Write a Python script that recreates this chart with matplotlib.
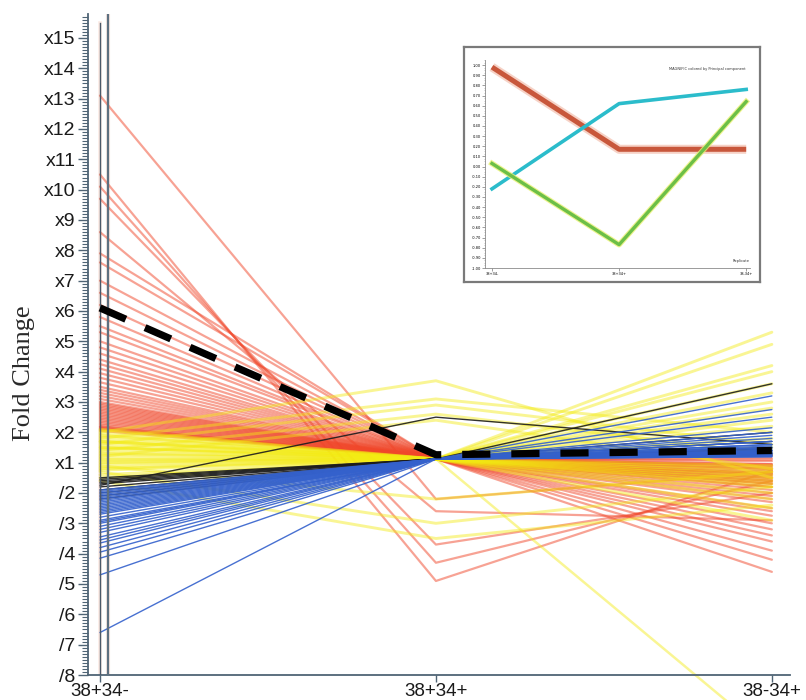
import matplotlib
matplotlib.use("Agg")
import matplotlib.pyplot as plt
import matplotlib.transforms as mtransforms
from matplotlib.ticker import FixedLocator, MultipleLocator

# ---------------- data (signed fold change: 3.0 = x3, -3.0 = /3) ----------------
conditions = ["38+34-", "38+34+", "38-34+"]

red_start = [13.1, 10.5, 10.1, 9.7, 8.6, 7.9, 7.6, 7.0, 6.6, 6.2, 5.8, 5.5, 5.3, 5.0,
             4.8, 4.6, 4.4, 4.25, 4.1, 3.95, 3.8, 3.65, 3.5, 3.4, 3.3, 3.2, 3.1, 3.0,
             2.95, 2.9, 2.85, 2.8, 2.75, 2.7, 2.65, 2.6, 2.55, 2.5, 2.45, 2.4, 2.35,
             2.3, 2.25, 2.2, 2.18, 2.15, 2.12, 2.1, 2.05]
red_mid = [-2.2, -4.9, -4.3, -3.7, -2.6, 1.12, 1.12, 1.12, 1.12, 1.12, 1.12, 1.12, 1.12, 1.12,
           1.12, 1.12, 1.12, 1.12, 1.12, 1.12, 1.12, 1.12, 1.12, 1.12, 1.12, 1.12, 1.12, 1.12,
           1.12, 1.12, 1.12, 1.12, 1.12, 1.12, 1.12, 1.12, 1.12, 1.12, 1.12, 1.12, 1.12,
           1.12, 1.12, 1.12, 1.12, 1.12, 1.12, 1.12, 1.12]
red_end = [-1.3, -1.25, -1.6, -2.0, -2.9, 1.3, -1.05, -1.5, 1.25, -1.1, -2.2, 1.15,
           -1.15, -1.7, -3.4, 1.1, -1.2, -1.35, -2.5, 1.05, -1.25, -1.45, -3.9, -1.3,
           -1.6, -2.1, -1.4, -1.8, -4.6, -1.55, -1.65, -2.3, -1.9, -2.6, -1.05, -3.0,
           -1.2, -1.4, -2.75, -1.5, -3.2, -1.7, -2.0, -1.1, -3.6, -1.35, -4.2, -1.6, -1.8]

yellow_start = [2.1, 2.05, 2.0, 1.95, 1.9, 1.85, 1.8, 1.75, 1.7, 1.65, 1.6, 1.55, 1.5,
                1.45, 1.4, 1.35, 1.3, 1.25, 1.2, 1.15, 1.1, 1.05, 1.0, -1.05, -1.1,
                -1.15, -1.2, -1.25, -1.3, -1.4, -1.5, -1.6, 1.7, 1.5]
yellow_mid = [1.12, 1.12, 3.7, 1.12, 1.12, 1.12, 3.1, 1.12, 1.12, 1.12, 2.9, 1.12, 1.12,
              1.12, 2.6, 1.12, 1.12, 1.12, 2.4, 1.12, 1.12, 1.12, 1.12, 1.12, -2.2,
              1.12, 1.12, 1.12, -3.0, 1.12, 1.12, -3.5, 1.12, 1.12]
yellow_end = [5.3, -1.1, -1.5, 4.9, -1.2, 4.2, 2.0, -1.3, 4.0, -1.4, 1.6, 3.6, -1.5,
              3.3, 1.3, -1.6, 3.0, -1.7, -1.2, 2.8, -1.8, 2.6, -2.0, 2.4, -1.3,
              -2.2, 2.2, -2.5, -1.8, 1.8, -2.9, -2.4, 1.5, -10.1]

black_start = [-1.75, -1.5, -1.55, -1.6, -1.65, -1.7, -1.8, -1.9, -2.0, -2.1, -2.2]
black_mid = [2.5, 1.12, 1.12, 1.12, 1.12, 1.12, 1.12, 1.12, 1.12, 1.12, 1.12]
black_end = [1.6, 3.6, 2.0, 1.7, 1.5, 1.4, 1.3, 1.35, 1.25, 1.45, 1.3]

blue_start = [-1.9, -1.95, -2.0, -2.05, -2.1, -2.15, -2.2, -2.25, -2.3, -2.35, -2.4,
              -2.45, -2.5, -2.55, -2.6, -2.65, -2.7, -2.8, -2.9, -2.95, -3.0, -3.1,
              -3.2, -3.3, -3.45, -3.55, -3.65, -3.8, -3.95, -4.15, -4.7, -6.6]
blue_mid = [1.12, 1.12, 1.12, 1.12, 1.12, 1.12, 1.12, 1.12, 1.12, 1.12, 1.12,
            1.12, 1.12, 1.12, 1.12, 1.12, 1.12, 1.12, 1.12, 1.12, 1.12, 1.12,
            1.12, 1.12, 1.12, 1.12, 1.12, 1.12, 1.12, 1.12, 1.12, 1.12]
blue_end = [3.2, 2.75, 2.5, 2.15, 1.9, 1.8, 1.7, 1.6, 1.55, 1.5, 1.45,
            1.4, 1.4, 1.35, 1.35, 1.3, 1.3, 1.3, 1.25, 1.25, 1.25, 1.25,
            1.2, 1.2, 1.2, 1.3, 1.35, 1.4, 1.5, 1.6, 1.7, 2.0]

mean_profile = [6.1, 1.26, 1.4]

# inset: principal component profiles
pc_values = {
    "PC1": [0.98, 0.17, 0.17],
    "PC2": [-0.22, 0.62, 0.76],
    "PC3": [0.03, -0.77, 0.64],
}

y_tick_labels = ["/8", "/7", "/6", "/5", "/4", "/3", "/2", "x1", "x2", "x3", "x4",
                 "x5", "x6", "x7", "x8", "x9", "x10", "x11", "x12", "x13", "x14", "x15"]


def to_axis(f):
    """signed fold change -> linear axis position (x1 = 0, xN = N-1, /N = -(N-1))"""
    return f - 1 if f > 0 else f + 1


xs = list(range(len(conditions)))

# ---------------- figure ----------------
W, H = 806, 700
fig = plt.figure(figsize=(W / 100, H / 100), dpi=100)
ax = fig.add_axes([88 / W, 25 / H, 702 / W, 661 / H])
ax.set_xlim(-0.0357, 2.054)
ax.set_ylim(-7, 14.79)

spine_col = "#4f6475"
for s in ["top", "right"]:
    ax.spines[s].set_visible(False)
for s in ["left", "bottom"]:
    ax.spines[s].set_color(spine_col)
    ax.spines[s].set_linewidth(1.3)

# vertical guide lines at the first condition
xaxis_tr = ax.get_xaxis_transform()
offset = mtransforms.ScaledTranslation(8 / 100, 0, fig.dpi_scale_trans)
ax.plot([0, 0], [0, 652 / 661], transform=xaxis_tr, color="#f6c4b2", lw=2.6, alpha=0.35, zorder=0.5)
ax.plot([0, 0], [0, 652 / 661], transform=xaxis_tr, color="#4a5868", lw=1.0, zorder=6)
ax.plot([0, 0], [0, 1], transform=xaxis_tr + offset, color="#f6c4b2", lw=3.0, alpha=0.35, zorder=0.5)
ax.plot([0, 0], [0, 1], transform=xaxis_tr + offset, color="#5d7080", lw=1.6, zorder=6)


def draw_group(starts, mids, ends, color, lw, alpha, z, **kw):
    for a, b, c in zip(starts, mids, ends):
        ax.plot(xs, [to_axis(a), to_axis(b), to_axis(c)], color=color, lw=lw,
                alpha=alpha, zorder=z, solid_capstyle="round", **kw)


draw_group(red_start, red_mid, red_end, "#f0472a", 1.6, 0.5, 1)
draw_group(yellow_start[:-1], yellow_mid[:-1], yellow_end[:-1], "#f3eb12", 2.1, 0.45, 2)
draw_group(yellow_start[-1:], yellow_mid[-1:], yellow_end[-1:], "#f3eb12", 1.8, 0.45, 2,
           clip_on=False)
draw_group(black_start, black_mid, black_end, "#1c1c1c", 1.0, 0.9, 3)
draw_group(blue_start, blue_mid, blue_end, "#3461cc", 1.0, 0.9, 3)

ax.plot(xs, [to_axis(v) for v in mean_profile], color="black", lw=5.2,
        dashes=(3.9, 2.9), solid_capstyle="butt", dash_capstyle="butt", zorder=7)

# y axis ticks
ax.yaxis.set_major_locator(FixedLocator(range(-7, 15)))
ax.set_yticklabels(y_tick_labels)
ax.yaxis.set_minor_locator(MultipleLocator(0.1))
ax.tick_params(axis="y", which="major", length=7, width=1.0, color=spine_col,
               labelsize=14, pad=2, labelcolor="#1a1a1a")
ax.tick_params(axis="y", which="minor", length=4, width=0.8, color=spine_col)
ax.set_xticks(xs)
ax.set_xticklabels(conditions)
ax.tick_params(axis="x", which="major", length=5, width=1.0, color=spine_col,
               labelsize=13.5, pad=0.5, labelcolor="#1a1a1a")
for lab in ax.get_xticklabels() + ax.get_yticklabels():
    lab.set_family(["Liberation Sans", "DejaVu Sans"])

fig.text(24 / W, 1 - 373 / H, "Fold Change", rotation=90, ha="center", va="center",
         fontsize=19, family=["Liberation Serif", "DejaVu Serif"], color="#2a2a2a")

# ---------------- inset ----------------
frame = fig.add_axes([464 / W, 1 - 282 / H, 296 / W, 235 / H], zorder=10)
frame.set_xticks([])
frame.set_yticks([])
for s in frame.spines.values():
    s.set_color("#7a7a7a")
    s.set_linewidth(1.6)
frame.set_facecolor("white")

ins = fig.add_axes([485 / W, 1 - 268 / H, 265 / W, 208 / H], zorder=11)
ins.patch.set_alpha(0)
ins.set_xlim(-0.055, 2.03)
ins.set_ylim(-1.0, 1.05)
for s in ["top", "right"]:
    ins.spines[s].set_visible(False)
for s in ["left", "bottom"]:
    ins.spines[s].set_color("#8a8a8a")
    ins.spines[s].set_linewidth(0.6)
ins.set_yticks([i / 10 for i in range(-10, 11)])
ins.set_yticklabels(["%.2f" % (i / 10) for i in range(-10, 11)])
ins.yaxis.set_minor_locator(MultipleLocator(0.025))
ins.set_xticks(xs)
ins.set_xticklabels(conditions)
ins.tick_params(which="major", length=2, width=0.5, labelsize=2.6, pad=1, color="#777")
ins.tick_params(which="minor", length=1, width=0.4, color="#999")

ins.plot(xs, pc_values["PC1"], color="#f1b4a0", lw=6.5, alpha=0.6, solid_capstyle="butt")
ins.plot(xs, pc_values["PC1"], color="#c8573b", lw=3.6, solid_capstyle="butt")
ins.plot(xs, pc_values["PC2"], color="#2bbccb", lw=2.6)
ins.plot(xs, pc_values["PC3"], color="#e9f070", lw=4.0, alpha=0.8)
ins.plot(xs, pc_values["PC3"], color="#6cbf47", lw=2.4)

ins.text(0.985, 0.965, "MAGNIFIC colored by Principal component", transform=ins.transAxes,
         ha="right", va="top", fontsize=2.6, color="#333")
ins.text(1.0, 0.025, "Replicate", transform=ins.transAxes, ha="right", va="bottom",
         fontsize=2.6, color="#333")

fig.savefig("out.png", dpi=100)
